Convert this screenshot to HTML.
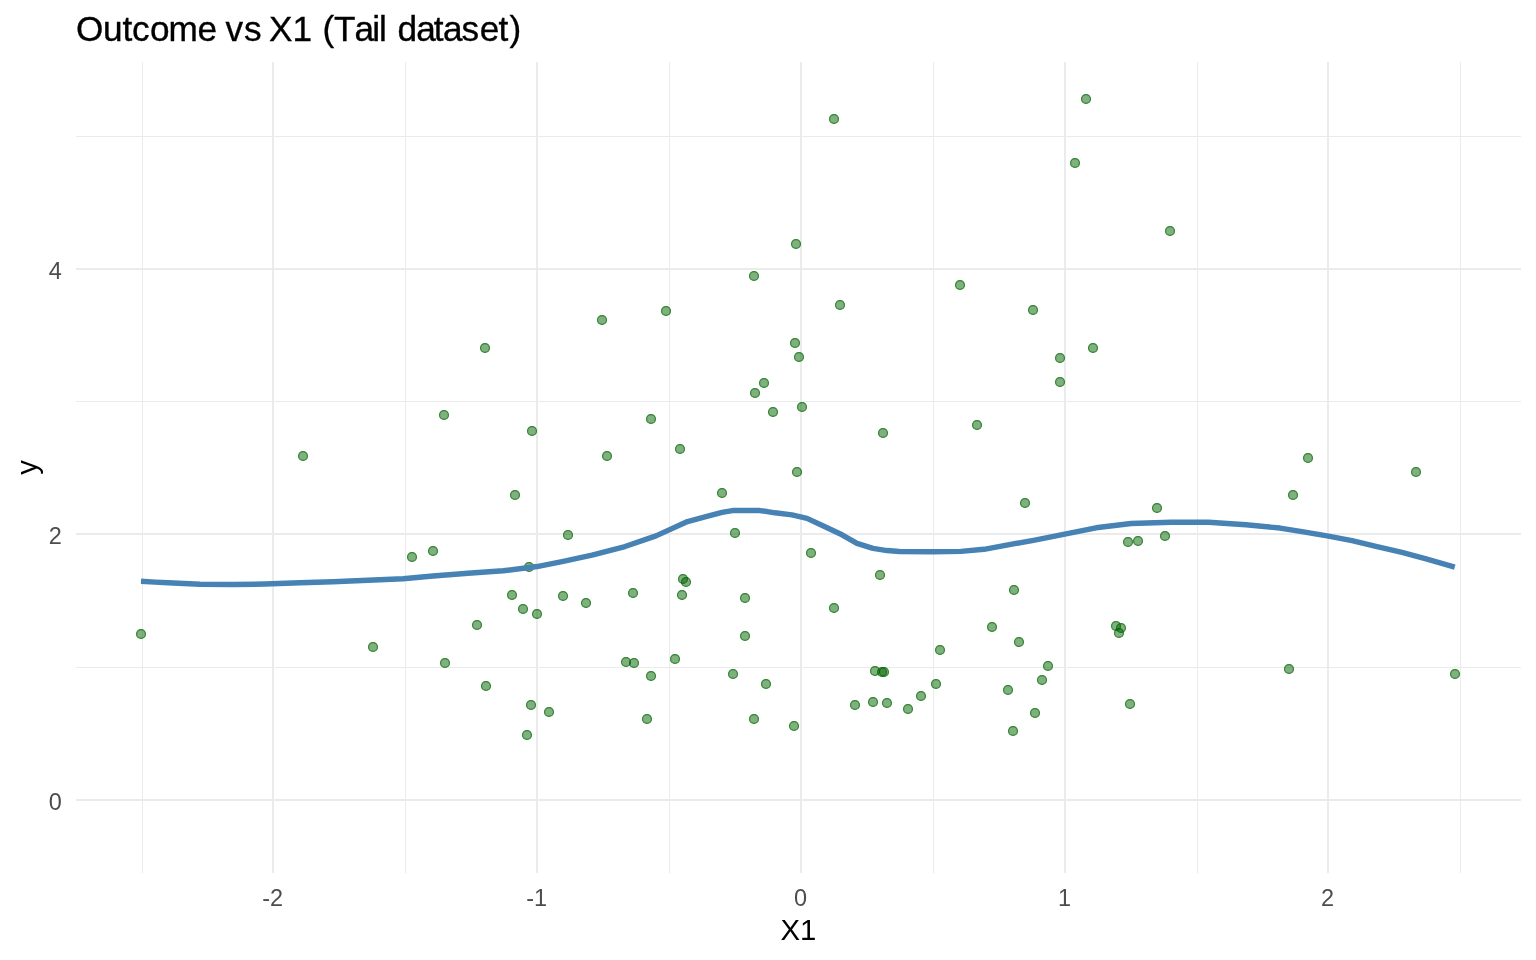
<!DOCTYPE html>
<html><head><meta charset="utf-8"><title>Outcome vs X1 (Tail dataset)</title>
<style>
html,body{margin:0;padding:0;background:#fff;}
body{width:1536px;height:960px;overflow:hidden;}
svg{display:block;font-family:"Liberation Sans",Arial,sans-serif;}
.g line{stroke:#EBEBEB;shape-rendering:crispEdges;}
.tk{font-size:23.47px;fill:#4D4D4D;}
.ax{font-size:29.33px;fill:#000;}
.ti{font-size:35.2px;fill:#000;font-kerning:none;stroke:#000;stroke-width:0.35px;}
.p circle{fill:rgba(0,100,0,0.5);}
.r circle{fill:none;stroke:rgba(0,100,0,0.6);stroke-width:1.2;}
</style></head><body>
<svg width="1536" height="960" viewBox="0 0 1536 960">
<rect width="1536" height="960" fill="#fff"/>
<g class="g">
<line x1="76" x2="1521" y1="667.5" y2="667.5" stroke-width="1"/>
<line x1="76" x2="1521" y1="401.5" y2="401.5" stroke-width="1"/>
<line x1="76" x2="1521" y1="136.5" y2="136.5" stroke-width="1"/>
<line x1="142.5" x2="142.5" y1="62" y2="873" stroke-width="1"/>
<line x1="405.5" x2="405.5" y1="62" y2="873" stroke-width="1"/>
<line x1="669.5" x2="669.5" y1="62" y2="873" stroke-width="1"/>
<line x1="933.5" x2="933.5" y1="62" y2="873" stroke-width="1"/>
<line x1="1197.5" x2="1197.5" y1="62" y2="873" stroke-width="1"/>
<line x1="1460.5" x2="1460.5" y1="62" y2="873" stroke-width="1"/>
<line x1="76" x2="1521" y1="800" y2="800" stroke-width="2"/>
<line x1="76" x2="1521" y1="534" y2="534" stroke-width="2"/>
<line x1="76" x2="1521" y1="269" y2="269" stroke-width="2"/>
<line x1="273" x2="273" y1="62" y2="873" stroke-width="2"/>
<line x1="537" x2="537" y1="62" y2="873" stroke-width="2"/>
<line x1="801" x2="801" y1="62" y2="873" stroke-width="2"/>
<line x1="1065" x2="1065" y1="62" y2="873" stroke-width="2"/>
<line x1="1328" x2="1328" y1="62" y2="873" stroke-width="2"/>
</g>
<g class="p">
<circle cx="303" cy="456" r="5"/>
<circle cx="444" cy="415" r="5"/>
<circle cx="485" cy="348" r="5"/>
<circle cx="433" cy="551" r="5"/>
<circle cx="412" cy="557" r="5"/>
<circle cx="834" cy="119" r="5"/>
<circle cx="796" cy="244" r="5"/>
<circle cx="754" cy="276" r="5"/>
<circle cx="840" cy="305" r="5"/>
<circle cx="666" cy="311" r="5"/>
<circle cx="602" cy="320" r="5"/>
<circle cx="1086" cy="99" r="5"/>
<circle cx="1075" cy="163" r="5"/>
<circle cx="1170" cy="231" r="5"/>
<circle cx="960" cy="285" r="5"/>
<circle cx="1033" cy="310" r="5"/>
<circle cx="795" cy="343" r="5"/>
<circle cx="799" cy="357" r="5"/>
<circle cx="764" cy="383" r="5"/>
<circle cx="755" cy="393" r="5"/>
<circle cx="802" cy="407" r="5"/>
<circle cx="773" cy="412" r="5"/>
<circle cx="651" cy="419" r="5"/>
<circle cx="532" cy="431" r="5"/>
<circle cx="883" cy="433" r="5"/>
<circle cx="680" cy="449" r="5"/>
<circle cx="607" cy="456" r="5"/>
<circle cx="797" cy="472" r="5"/>
<circle cx="722" cy="493" r="5"/>
<circle cx="515" cy="495" r="5"/>
<circle cx="735" cy="533" r="5"/>
<circle cx="568" cy="535" r="5"/>
<circle cx="811" cy="553" r="5"/>
<circle cx="1093" cy="348" r="5"/>
<circle cx="1060" cy="358" r="5"/>
<circle cx="1060" cy="382" r="5"/>
<circle cx="977" cy="425" r="5"/>
<circle cx="1025" cy="503" r="5"/>
<circle cx="1157" cy="508" r="5"/>
<circle cx="1165" cy="536" r="5"/>
<circle cx="1138" cy="541" r="5"/>
<circle cx="1128" cy="542" r="5"/>
<circle cx="1308" cy="458" r="5"/>
<circle cx="1416" cy="472" r="5"/>
<circle cx="1293" cy="495" r="5"/>
<circle cx="141" cy="634" r="5"/>
<circle cx="373" cy="647" r="5"/>
<circle cx="477" cy="625" r="5"/>
<circle cx="445" cy="663" r="5"/>
<circle cx="486" cy="686" r="5"/>
<circle cx="512" cy="595" r="5"/>
<circle cx="529" cy="567" r="5"/>
<circle cx="880" cy="575" r="5"/>
<circle cx="683" cy="579" r="5"/>
<circle cx="686" cy="582" r="5"/>
<circle cx="633" cy="593" r="5"/>
<circle cx="682" cy="595" r="5"/>
<circle cx="563" cy="596" r="5"/>
<circle cx="745" cy="598" r="5"/>
<circle cx="586" cy="603" r="5"/>
<circle cx="523" cy="609" r="5"/>
<circle cx="537" cy="614" r="5"/>
<circle cx="834" cy="608" r="5"/>
<circle cx="745" cy="636" r="5"/>
<circle cx="675" cy="659" r="5"/>
<circle cx="626" cy="662" r="5"/>
<circle cx="634" cy="663" r="5"/>
<circle cx="651" cy="676" r="5"/>
<circle cx="733" cy="674" r="5"/>
<circle cx="766" cy="684" r="5"/>
<circle cx="875" cy="671" r="5"/>
<circle cx="882" cy="672" r="5"/>
<circle cx="884" cy="672" r="5"/>
<circle cx="531" cy="705" r="5"/>
<circle cx="549" cy="712" r="5"/>
<circle cx="647" cy="719" r="5"/>
<circle cx="527" cy="735" r="5"/>
<circle cx="754" cy="719" r="5"/>
<circle cx="794" cy="726" r="5"/>
<circle cx="855" cy="705" r="5"/>
<circle cx="873" cy="702" r="5"/>
<circle cx="887" cy="703" r="5"/>
<circle cx="1014" cy="590" r="5"/>
<circle cx="992" cy="627" r="5"/>
<circle cx="1116" cy="626" r="5"/>
<circle cx="1121" cy="628" r="5"/>
<circle cx="1119" cy="633" r="5"/>
<circle cx="1019" cy="642" r="5"/>
<circle cx="940" cy="650" r="5"/>
<circle cx="1048" cy="666" r="5"/>
<circle cx="1042" cy="680" r="5"/>
<circle cx="936" cy="684" r="5"/>
<circle cx="1008" cy="690" r="5"/>
<circle cx="921" cy="696" r="5"/>
<circle cx="908" cy="709" r="5"/>
<circle cx="1130" cy="704" r="5"/>
<circle cx="1035" cy="713" r="5"/>
<circle cx="1013" cy="731" r="5"/>
<circle cx="1289" cy="669" r="5"/>
<circle cx="1455" cy="674" r="5"/>
</g><g class="r">
<circle cx="303" cy="456" r="4.45"/>
<circle cx="444" cy="415" r="4.45"/>
<circle cx="485" cy="348" r="4.45"/>
<circle cx="433" cy="551" r="4.45"/>
<circle cx="412" cy="557" r="4.45"/>
<circle cx="834" cy="119" r="4.45"/>
<circle cx="796" cy="244" r="4.45"/>
<circle cx="754" cy="276" r="4.45"/>
<circle cx="840" cy="305" r="4.45"/>
<circle cx="666" cy="311" r="4.45"/>
<circle cx="602" cy="320" r="4.45"/>
<circle cx="1086" cy="99" r="4.45"/>
<circle cx="1075" cy="163" r="4.45"/>
<circle cx="1170" cy="231" r="4.45"/>
<circle cx="960" cy="285" r="4.45"/>
<circle cx="1033" cy="310" r="4.45"/>
<circle cx="795" cy="343" r="4.45"/>
<circle cx="799" cy="357" r="4.45"/>
<circle cx="764" cy="383" r="4.45"/>
<circle cx="755" cy="393" r="4.45"/>
<circle cx="802" cy="407" r="4.45"/>
<circle cx="773" cy="412" r="4.45"/>
<circle cx="651" cy="419" r="4.45"/>
<circle cx="532" cy="431" r="4.45"/>
<circle cx="883" cy="433" r="4.45"/>
<circle cx="680" cy="449" r="4.45"/>
<circle cx="607" cy="456" r="4.45"/>
<circle cx="797" cy="472" r="4.45"/>
<circle cx="722" cy="493" r="4.45"/>
<circle cx="515" cy="495" r="4.45"/>
<circle cx="735" cy="533" r="4.45"/>
<circle cx="568" cy="535" r="4.45"/>
<circle cx="811" cy="553" r="4.45"/>
<circle cx="1093" cy="348" r="4.45"/>
<circle cx="1060" cy="358" r="4.45"/>
<circle cx="1060" cy="382" r="4.45"/>
<circle cx="977" cy="425" r="4.45"/>
<circle cx="1025" cy="503" r="4.45"/>
<circle cx="1157" cy="508" r="4.45"/>
<circle cx="1165" cy="536" r="4.45"/>
<circle cx="1138" cy="541" r="4.45"/>
<circle cx="1128" cy="542" r="4.45"/>
<circle cx="1308" cy="458" r="4.45"/>
<circle cx="1416" cy="472" r="4.45"/>
<circle cx="1293" cy="495" r="4.45"/>
<circle cx="141" cy="634" r="4.45"/>
<circle cx="373" cy="647" r="4.45"/>
<circle cx="477" cy="625" r="4.45"/>
<circle cx="445" cy="663" r="4.45"/>
<circle cx="486" cy="686" r="4.45"/>
<circle cx="512" cy="595" r="4.45"/>
<circle cx="529" cy="567" r="4.45"/>
<circle cx="880" cy="575" r="4.45"/>
<circle cx="683" cy="579" r="4.45"/>
<circle cx="686" cy="582" r="4.45"/>
<circle cx="633" cy="593" r="4.45"/>
<circle cx="682" cy="595" r="4.45"/>
<circle cx="563" cy="596" r="4.45"/>
<circle cx="745" cy="598" r="4.45"/>
<circle cx="586" cy="603" r="4.45"/>
<circle cx="523" cy="609" r="4.45"/>
<circle cx="537" cy="614" r="4.45"/>
<circle cx="834" cy="608" r="4.45"/>
<circle cx="745" cy="636" r="4.45"/>
<circle cx="675" cy="659" r="4.45"/>
<circle cx="626" cy="662" r="4.45"/>
<circle cx="634" cy="663" r="4.45"/>
<circle cx="651" cy="676" r="4.45"/>
<circle cx="733" cy="674" r="4.45"/>
<circle cx="766" cy="684" r="4.45"/>
<circle cx="875" cy="671" r="4.45"/>
<circle cx="882" cy="672" r="4.45"/>
<circle cx="884" cy="672" r="4.45"/>
<circle cx="531" cy="705" r="4.45"/>
<circle cx="549" cy="712" r="4.45"/>
<circle cx="647" cy="719" r="4.45"/>
<circle cx="527" cy="735" r="4.45"/>
<circle cx="754" cy="719" r="4.45"/>
<circle cx="794" cy="726" r="4.45"/>
<circle cx="855" cy="705" r="4.45"/>
<circle cx="873" cy="702" r="4.45"/>
<circle cx="887" cy="703" r="4.45"/>
<circle cx="1014" cy="590" r="4.45"/>
<circle cx="992" cy="627" r="4.45"/>
<circle cx="1116" cy="626" r="4.45"/>
<circle cx="1121" cy="628" r="4.45"/>
<circle cx="1119" cy="633" r="4.45"/>
<circle cx="1019" cy="642" r="4.45"/>
<circle cx="940" cy="650" r="4.45"/>
<circle cx="1048" cy="666" r="4.45"/>
<circle cx="1042" cy="680" r="4.45"/>
<circle cx="936" cy="684" r="4.45"/>
<circle cx="1008" cy="690" r="4.45"/>
<circle cx="921" cy="696" r="4.45"/>
<circle cx="908" cy="709" r="4.45"/>
<circle cx="1130" cy="704" r="4.45"/>
<circle cx="1035" cy="713" r="4.45"/>
<circle cx="1013" cy="731" r="4.45"/>
<circle cx="1289" cy="669" r="4.45"/>
<circle cx="1455" cy="674" r="4.45"/>
</g>
<path d="M141,581.30 L155,582.10 L168,582.80 L200,584.30 L233,584.55 L265,584.05 L300,582.80 L333,581.80 L368,580.30 L403,578.80 L433,576.05 L468,573.30 L503,570.80 L537,566.55 L562,561.55 L592,555.05 L625,546.55 L656,535.90 L687.5,521.55 L705,516.80 L722,512.30 L732.5,510.55 L760,510.55 L775,512.80 L792,514.90 L807,518.40 L824.5,526.55 L842,534.80 L857,543.40 L873,548.40 L887,550.55 L899.5,551.55 L933,551.70 L961,551.40 L984,549.30 L996,547.05 L1033.5,540.30 L1064.75,534.05 L1096,527.80 L1131,523.55 L1171,522.30 L1208.5,522.30 L1246,524.80 L1280,528.05 L1302,531.55 L1327,535.80 L1352,540.55 L1377,546.55 L1402,552.30 L1427,559.05 L1454.75,567.05" fill="none" stroke="#4682B4" stroke-width="5.4" stroke-linejoin="round" stroke-linecap="butt"/>
<text class="tk" x="272.6" y="905.9" text-anchor="middle">-2</text>
<text class="tk" x="536.6" y="905.9" text-anchor="middle">-1</text>
<text class="tk" x="800.6" y="905.9" text-anchor="middle">0</text>
<text class="tk" x="1064.6" y="905.9" text-anchor="middle">1</text>
<text class="tk" x="1327.6" y="905.9" text-anchor="middle">2</text>
<text class="tk" x="61.8" y="810.1" text-anchor="end">0</text>
<text class="tk" x="61.8" y="544.1" text-anchor="end">2</text>
<text class="tk" x="61.8" y="279.1" text-anchor="end">4</text>
<text class="ax" x="798.5" y="940.2" text-anchor="middle">X1</text>
<text class="ax" transform="translate(36.8,467.5) rotate(-90)" text-anchor="middle">y</text>
<text class="ti" x="76.0 102.9 122.4 131.9 150.1 168.6 197.4 216.4 225.6 244.1 260.2 269.0 292.6 312.4 322.4 334.1 354.5 372.2 378.9 387.2 397.4 416.2 433.8 442.9 461.6 479.7 498.4 509.6" y="41.3">Outcome vs X1 (Tail dataset)</text>
</svg></body></html>
